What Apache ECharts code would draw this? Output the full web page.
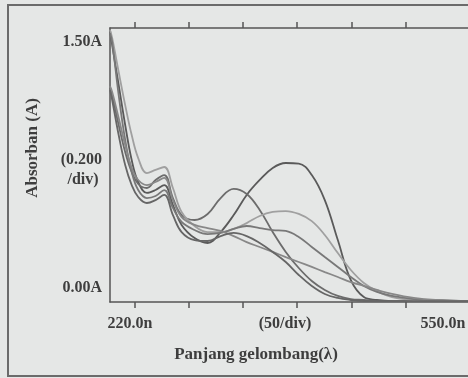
<!DOCTYPE html>
<html>
<head>
<meta charset="utf-8">
<script src="https://cdn.jsdelivr.net/npm/echarts@6/dist/echarts.min.js"></script>
<style>
  html, body { margin: 0; padding: 0; background: #e5e7e6; }
  #chart { width: 468px; height: 378px; }
</style>
</head>
<body>
<div id="chart"></div>
<script>
// wavelength (nm) sampled along the spectrum
const wavelengths = [220, 222, 228, 234, 240, 246, 254, 262, 270, 278, 286, 298, 310, 322, 334,
  346, 358, 370, 382, 394, 406, 418, 430, 442, 454, 466, 480, 500, 520, 550];

// absorbance of the six spectra
const specA = [1.489, 1.407, 1.188, 0.969, 0.777, 0.657, 0.597, 0.613, 0.640, 0.531, 0.422, 0.350, 0.323, 0.383, 0.476,
  0.586, 0.668, 0.734, 0.761, 0.758, 0.695, 0.558, 0.339, 0.120, 0.027, 0.011, 0.005, 0.005, 0.005, 0.005];
const specB = [1.171, 1.133, 0.969, 0.821, 0.712, 0.646, 0.624, 0.668, 0.695, 0.569, 0.476, 0.449, 0.482, 0.569, 0.619,
  0.591, 0.504, 0.383, 0.274, 0.186, 0.115, 0.066, 0.033, 0.016, 0.011, 0.005, 0.005, 0.005, 0.005, 0.005];
const specC = [1.489, 1.445, 1.259, 1.078, 0.914, 0.788, 0.706, 0.723, 0.739, 0.624, 0.493, 0.416, 0.383, 0.383, 0.400,
  0.432, 0.471, 0.493, 0.498, 0.482, 0.443, 0.367, 0.268, 0.175, 0.104, 0.060, 0.027, 0.011, 0.005, 0.005];
const specD = [1.473, 1.423, 1.133, 0.887, 0.712, 0.613, 0.569, 0.580, 0.613, 0.515, 0.438, 0.394, 0.372, 0.378, 0.400,
  0.416, 0.405, 0.394, 0.389, 0.356, 0.301, 0.246, 0.192, 0.137, 0.088, 0.055, 0.033, 0.016, 0.011, 0.005];
const specE = [1.182, 1.150, 1.007, 0.859, 0.734, 0.668, 0.640, 0.657, 0.679, 0.558, 0.465, 0.422, 0.405, 0.389, 0.361,
  0.328, 0.301, 0.274, 0.246, 0.219, 0.192, 0.164, 0.137, 0.109, 0.088, 0.066, 0.044, 0.022, 0.011, 0.005];
const specF = [1.160, 1.106, 0.914, 0.750, 0.640, 0.575, 0.542, 0.558, 0.586, 0.476, 0.383, 0.339, 0.334, 0.361, 0.378,
  0.361, 0.323, 0.274, 0.219, 0.148, 0.088, 0.044, 0.022, 0.011, 0.005, 0.005, 0.005, 0.005, 0.005, 0.005];

// tick marks on top and bottom frame (50 nm apart)
const tickWavelengths = [242.5, 292.5, 342.5, 392.5, 442.5, 492.5];

const spectra = [specA, specB, specC, specD, specE, specF];
const lineColors = ['#5a5a5a', '#6c6c6c', '#a0a0a0', '#787878', '#888888', '#666666'];

const frameColor = '#555';
const labelFont = 'bold 16px "Liberation Serif", "DejaVu Serif", serif';
const titleFont = 'bold 17px "Liberation Serif", "DejaVu Serif", serif';
const textColor = '#3e3e3e';

const chart = echarts.init(document.getElementById('chart'));

function xAxisOf(pos) {
  return {
    type: 'value',
    position: pos,
    min: 220,
    max: 550,
    axisLine: { show: true, lineStyle: { color: frameColor, width: 1.5 } },
    axisTick: {
      show: true,
      customValues: tickWavelengths,
      length: 6,
      lineStyle: { color: frameColor, width: 1.5 }
    },
    axisLabel: { show: false },
    splitLine: { show: false }
  };
}

chart.setOption({
  animation: false,
  backgroundColor: '#e5e7e6',
  grid: { left: 110, top: 28, bottom: 76, right: -21 },
  xAxis: [xAxisOf('bottom'), xAxisOf('top')],
  yAxis: {
    type: 'value',
    min: 0,
    max: 1.5,
    axisLine: { show: true, lineStyle: { color: frameColor, width: 1.5 } },
    axisTick: { show: false },
    axisLabel: { show: false },
    splitLine: { show: false }
  },
  series: spectra.map((vals, i) => ({
    type: 'line',
    xAxisIndex: 0,
    data: wavelengths.map((w, j) => [w, vals[j]]),
    smooth: 0.4,
    showSymbol: false,
    lineStyle: { color: lineColors[i], width: 1.8 }
  })),
  graphic: [
    {
      type: 'rect', z: -1, silent: true,
      shape: { x: 8, y: 5, width: 520, height: 371 },
      style: { fill: null, stroke: '#6b6b6b', lineWidth: 2 }
    },
    { type: 'text', x: 102, y: 42, style: { text: '1.50A', font: labelFont, fill: textColor, align: 'right', verticalAlign: 'middle' } },
    { type: 'text', x: 102, y: 160, style: { text: '(0.200', font: labelFont, fill: textColor, align: 'right', verticalAlign: 'middle' } },
    { type: 'text', x: 83, y: 180, style: { text: '/div)', font: labelFont, fill: textColor, align: 'center', verticalAlign: 'middle' } },
    { type: 'text', x: 102, y: 288, style: { text: '0.00A', font: labelFont, fill: textColor, align: 'right', verticalAlign: 'middle' } },
    { type: 'text', x: 130, y: 324, style: { text: '220.0n', font: labelFont, fill: textColor, align: 'center', verticalAlign: 'middle' } },
    { type: 'text', x: 285, y: 324, style: { text: '(50/div)', font: labelFont, fill: textColor, align: 'center', verticalAlign: 'middle' } },
    { type: 'text', x: 443, y: 324, style: { text: '550.0n', font: labelFont, fill: textColor, align: 'center', verticalAlign: 'middle' } },
    { type: 'text', x: 256, y: 355, style: { text: 'Panjang gelombang(λ)', font: titleFont, fill: textColor, align: 'center', verticalAlign: 'middle' } },
    { type: 'text', x: 33, y: 148, rotation: Math.PI / 2, style: { text: 'Absorban (A)', font: titleFont, fill: textColor, align: 'center', verticalAlign: 'middle' } }
  ]
});
</script>
</body>
</html>
